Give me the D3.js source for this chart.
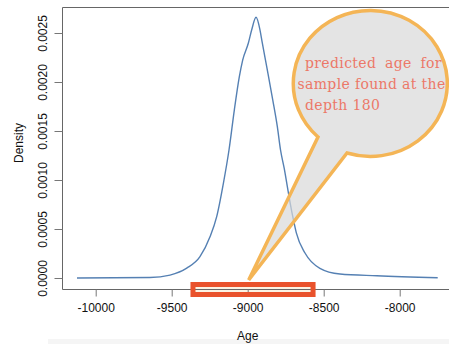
<!DOCTYPE html>
<html>
<head>
<meta charset="utf-8">
<script src="https://cdn.jsdelivr.net/npm/d3@7"></script>
<style>
  body { margin: 0; background: #fff; }
  svg { display: block; }
</style>
</head>
<body>
<div id="chart-area"></div>
<script>
// density estimate of predicted age
var ages = [-10123, -9643, -9511, -9401, -9314, -9248, -9204, -9160, -9123, -9088,
  -9055, -9033, -8996, -8974, -8945, -8919, -8904, -8875, -8835, -8805,
  -8784, -8760, -8740, -8720, -8700, -8680, -8623, -8525, -8393, -8151, -7750];
var densities = [0, 0.000005, 0.00003, 0.0001, 0.000217, 0.00042, 0.000626, 0.000966, 0.001306, 0.001714,
  0.002054, 0.002224, 0.002395, 0.00253, 0.00266, 0.00253, 0.002398, 0.002156, 0.001816, 0.001544,
  0.001306, 0.00112, 0.00094, 0.00076, 0.0006, 0.00046, 0.000255, 0.000099, 0.000041, 0.000023, 0.000003];

var xTicks = [-10000, -9500, -9000, -8500, -8000];
var yTicks = [0, 0.0005, 0.0010, 0.0015, 0.0020, 0.0025];
var yTickLabels = ['0.0000', '0.0005', '0.0010', '0.0015', '0.0020', '0.0025'];
var calloutLines = ['predicted age for', 'sample found at the', 'depth 180'];
var highlightRange = [-9360, -8570];

var width = 449;
var height = 344;

var svg = d3.select('#chart-area')
  .append('svg')
  .attr('width', width)
  .attr('height', height);

// X Scale
var x = d3.scaleLinear()
  .domain([-10000, -8000])
  .range([95.7, 399.7]);

// Y Scale
var y = d3.scaleLinear()
  .domain([0, 0.0025])
  .range([278, 33]);

// faint band at the bottom edge
svg.append('rect')
  .attr('x', 48).attr('y', 339)
  .attr('width', width - 48).attr('height', 5)
  .attr('fill', '#f5f5f5');

// highlight box fill (under axis)
var hx0 = x(highlightRange[0]);
var hx1 = x(highlightRange[1]);
svg.append('rect')
  .attr('x', hx0).attr('y', 284.5)
  .attr('width', hx1 - hx0).attr('height', 10)
  .attr('fill', '#fbf3e4');

// plot box
svg.append('path')
  .attr('d', 'M455,7.5H62.5V289.5H455')
  .attr('fill', 'none')
  .attr('stroke', '#666')
  .attr('stroke-width', 1);

// X Axis
var xAxisCall = d3.axisBottom(x)
  .tickValues(xTicks)
  .tickSize(7)
  .tickPadding(7)
  .tickFormat(function(d) { return d; });
var xAxisGroup = svg.append('g')
  .attr('transform', 'translate(0, 289.5)')
  .call(xAxisCall);
xAxisGroup.select('.domain').remove();

// Y Axis
var yAxisCall = d3.axisLeft(y)
  .tickValues(yTicks)
  .tickSize(8)
  .tickFormat(function(d, i) { return yTickLabels[i]; });
var yAxisGroup = svg.append('g')
  .attr('transform', 'translate(62.5, 0)')
  .call(yAxisCall);
yAxisGroup.select('.domain').remove();
yAxisGroup.selectAll('.tick text')
  .attr('x', 0).attr('dy', 0)
  .attr('text-anchor', 'middle')
  .attr('transform', 'translate(-16, 0) rotate(-90)');

svg.selectAll('.tick line').attr('stroke', '#777');
svg.selectAll('.tick text')
  .attr('fill', '#111')
  .attr('font-family', 'Liberation Sans, Arial, sans-serif')
  .attr('font-size', '12px');

// Labels
svg.append('text')
  .attr('x', x(-9000))
  .attr('y', 340)
  .attr('text-anchor', 'middle')
  .attr('font-family', 'Liberation Sans, Arial, sans-serif')
  .attr('font-size', '12px')
  .attr('fill', '#111')
  .text('Age');

svg.append('text')
  .attr('transform', 'translate(23, 143) rotate(-90)')
  .attr('text-anchor', 'middle')
  .attr('font-family', 'Liberation Sans, Arial, sans-serif')
  .attr('font-size', '12px')
  .attr('fill', '#111')
  .text('Density');

// density line
var line = d3.line()
  .x(function(d, i) { return x(ages[i]); })
  .y(function(d) { return y(d); })
  .curve(d3.curveMonotoneX);

svg.append('path')
  .datum(densities)
  .attr('d', line)
  .attr('fill', 'none')
  .attr('stroke', '#5580b3')
  .attr('stroke-width', 1.4);

// highlight box outline
svg.append('rect')
  .attr('x', hx0).attr('y', 284.5)
  .attr('width', hx1 - hx0).attr('height', 10)
  .attr('fill', 'none')
  .attr('stroke', '#e9522c')
  .attr('stroke-width', 5);

// speech bubble
var rx = 77, ry = 73;
var tip = [x(-9000) + 1, 280];
var bubble = 'M318,137L' + tip[0] + ',' + tip[1] + 'L347,153' +
  'A' + rx + ',' + ry + ' 0 1 0 318,137Z';
svg.append('path')
  .attr('d', bubble)
  .attr('fill', '#d8d8d8')
  .attr('fill-opacity', 0.7)
  .attr('stroke', '#f4b556')
  .attr('stroke-width', 3.5)
  .attr('stroke-linejoin', 'miter');

svg.append('g')
  .selectAll('text')
  .data(calloutLines)
  .enter()
  .append('text')
    .attr('x', function(d, i) { return i === 1 ? 297.5 : 305; })
    .attr('y', function(d, i) { return 67.5 + i * 21; })
    .attr('font-family', 'DejaVu Serif, serif')
    .attr('font-size', '14px')
    .attr('letter-spacing', '0.35px')
    .attr('word-spacing', function(d, i) { return i === 0 ? '4px' : '0px'; })
    .attr('fill', '#ec7868')
    .text(function(d) { return d; });
</script>
</body>
</html>
